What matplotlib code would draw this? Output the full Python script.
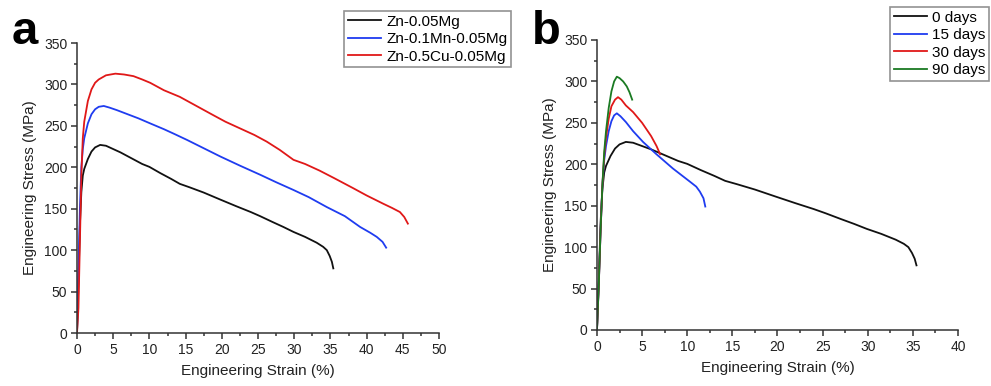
import numpy as np
import matplotlib
matplotlib.use('Agg')
import matplotlib.pyplot as plt
from matplotlib.ticker import MultipleLocator

plt.rcParams['font.family'] = ['Liberation Sans', 'DejaVu Sans']

# panel a: alloys
mg_x = [0, 0.2, 0.4, 0.6, 0.8, 1.0, 1.5, 2.0, 2.5, 3.2, 4.0, 5.0, 6.0, 7.5, 9.0, 10.0, 11.5, 13.0, 14.2,
        15.5, 17.5, 19.8, 22.0, 24.0, 25.3, 27.0, 28.5, 29.9, 31.5, 33.1, 34.0, 34.5, 34.9, 35.2, 35.4]
mg_y = [0, 60, 130, 170, 190, 198, 210, 219, 224, 227, 226, 222, 218, 211, 204, 200.5, 193, 186, 180,
        176, 169.5, 161, 153, 146, 141, 134, 128, 122, 116, 109, 104, 100, 93, 86, 78]

mn_x = [0, 0.2, 0.4, 0.6, 0.8, 1.0, 1.5, 2.0, 2.5, 3.0, 3.7, 4.5, 5.5, 7.0, 8.5, 10.1, 12.0, 13.5, 15.2,
        17.5, 19.8, 22.5, 25.3, 27.5, 29.9, 32.0, 34.5, 37.0, 39.1, 40.5, 41.4, 42.2, 42.7]
mn_y = [0, 70, 150, 200, 222, 235, 253, 264, 270, 273, 274, 272, 269, 264, 259, 253, 246, 240, 233,
        223, 213, 202, 191, 182, 172.6, 164, 152, 141, 128, 121, 116, 110, 103]

cu_x = [0, 0.2, 0.4, 0.6, 0.8, 1.0, 1.5, 2.0, 2.5, 3.0, 4.0, 5.3, 6.5, 7.8, 9.0, 10.1, 12.0, 14.2, 16.5,
        18.8, 20.5, 22.5, 24.5, 26.2, 28.0, 29.9, 31.5, 33.5, 35.5, 38.1, 40.0, 42.3, 43.5, 44.6, 45.2, 45.7]
cu_y = [0, 30, 110, 190, 235, 255, 280, 294, 302, 306, 311, 313, 312, 310, 306, 302, 293, 285, 274,
        263, 255, 247, 239, 231, 221, 209, 204, 196, 187, 175, 166, 156, 151, 146, 140, 132]

# panel b: immersion days
d0_x, d0_y = mg_x, mg_y
d15_x = [0, 0.2, 0.4, 0.6, 0.8, 1.0, 1.3, 1.6, 1.9, 2.2, 2.6, 3.2, 4.0, 5.1, 6.6, 8.4, 10.3, 11.0, 11.4, 11.8, 12.0]
d15_y = [0, 55, 120, 175, 205, 222, 240, 252, 259, 261.5, 258, 251, 240, 227, 212, 195, 179, 173, 167, 159, 149]
d30_x = [0, 0.2, 0.4, 0.6, 0.8, 1.0, 1.3, 1.6, 2.0, 2.33, 2.7, 3.2, 4.0, 5.0, 6.0, 6.6, 7.0]
d30_y = [0, 55, 120, 175, 210, 232, 255, 270, 278, 281, 278, 271, 263, 250, 234, 222, 212]
d90_x = [0, 0.2, 0.4, 0.6, 0.8, 1.0, 1.3, 1.6, 1.9, 2.2, 2.5, 2.9, 3.3, 3.6, 3.9]
d90_y = [0, 55, 120, 175, 215, 240, 268, 288, 300, 305.7, 304, 300, 294, 287, 278]

labels_a = ['Zn-0.05Mg', 'Zn-0.1Mn-0.05Mg', 'Zn-0.5Cu-0.05Mg']
labels_b = ['0 days', '15 days', '30 days', '90 days']

BLACK = '#111111'
BLUE = '#1f3cf0'
RED = '#e01818'
GREEN = '#1a7a22'
LW = 1.3


def style_axes(ax, xmax):
    ax.spines['top'].set_visible(False)
    ax.spines['right'].set_visible(False)
    for s in ['left', 'bottom']:
        ax.spines[s].set_linewidth(1.1)
        ax.spines[s].set_color('#333333')
    ax.set_xlim(0, xmax)
    ax.set_ylim(0, 350)
    ax.xaxis.set_major_locator(MultipleLocator(5))
    ax.xaxis.set_minor_locator(MultipleLocator(2.5))
    ax.yaxis.set_major_locator(MultipleLocator(50))
    ax.yaxis.set_minor_locator(MultipleLocator(25))
    ax.tick_params(which='major', direction='out', length=4, width=1.1, labelsize=10, colors='#333333',
                   labelcolor='#222222', pad=3)
    ax.tick_params(which='minor', direction='out', length=2.5, width=1.1, colors='#333333')
    ax.set_xlabel('Engineering Strain (%)', fontsize=11, color='#222222', labelpad=5)
    ax.set_ylabel('Engineering Stress (MPa)', fontsize=11, color='#222222', labelpad=5)


fig = plt.figure(figsize=(9.91, 3.86), dpi=100)
ax1 = fig.add_axes([0.0777, 0.1373, 0.3653, 0.7513])
ax2 = fig.add_axes([0.6024, 0.1451, 0.3643, 0.7513])

ax1.plot(mg_x, mg_y, color=BLACK, lw=LW, label=labels_a[0])
ax1.plot(mn_x, mn_y, color=BLUE, lw=LW, label=labels_a[1])
ax1.plot(cu_x, cu_y, color=RED, lw=LW, label=labels_a[2])
style_axes(ax1, 50)

ax2.plot(d0_x, d0_y, color=BLACK, lw=LW, label=labels_b[0])
ax2.plot(d15_x, d15_y, color=BLUE, lw=LW, label=labels_b[1])
ax2.plot(d30_x, d30_y, color=RED, lw=LW, label=labels_b[2])
ax2.plot(d90_x, d90_y, color=GREEN, lw=LW, label=labels_b[3])
style_axes(ax2, 40)

leg_kw = dict(fontsize=11, frameon=True, fancybox=False, edgecolor='#777777', handlelength=2.2,
              handletextpad=0.3, borderpad=0.25, labelspacing=0.22, borderaxespad=0)
leg1 = fig.legend(handles=ax1.get_lines(), loc='upper left', bbox_to_anchor=(344 / 991, 1 - 11 / 386), **leg_kw)
leg2 = fig.legend(handles=ax2.get_lines(), loc='upper right', bbox_to_anchor=(989 / 991, 1 - 7 / 386), **leg_kw)
for leg in (leg1, leg2):
    leg.get_frame().set_linewidth(1.2)

fig.text(12 / 991, 1 - 44 / 386, 'a', fontsize=34, fontweight='bold')
fig.text(532 / 991, 1 - 44 / 386, 'b', fontsize=34, fontweight='bold')

fig.savefig('out.png', dpi=100)
